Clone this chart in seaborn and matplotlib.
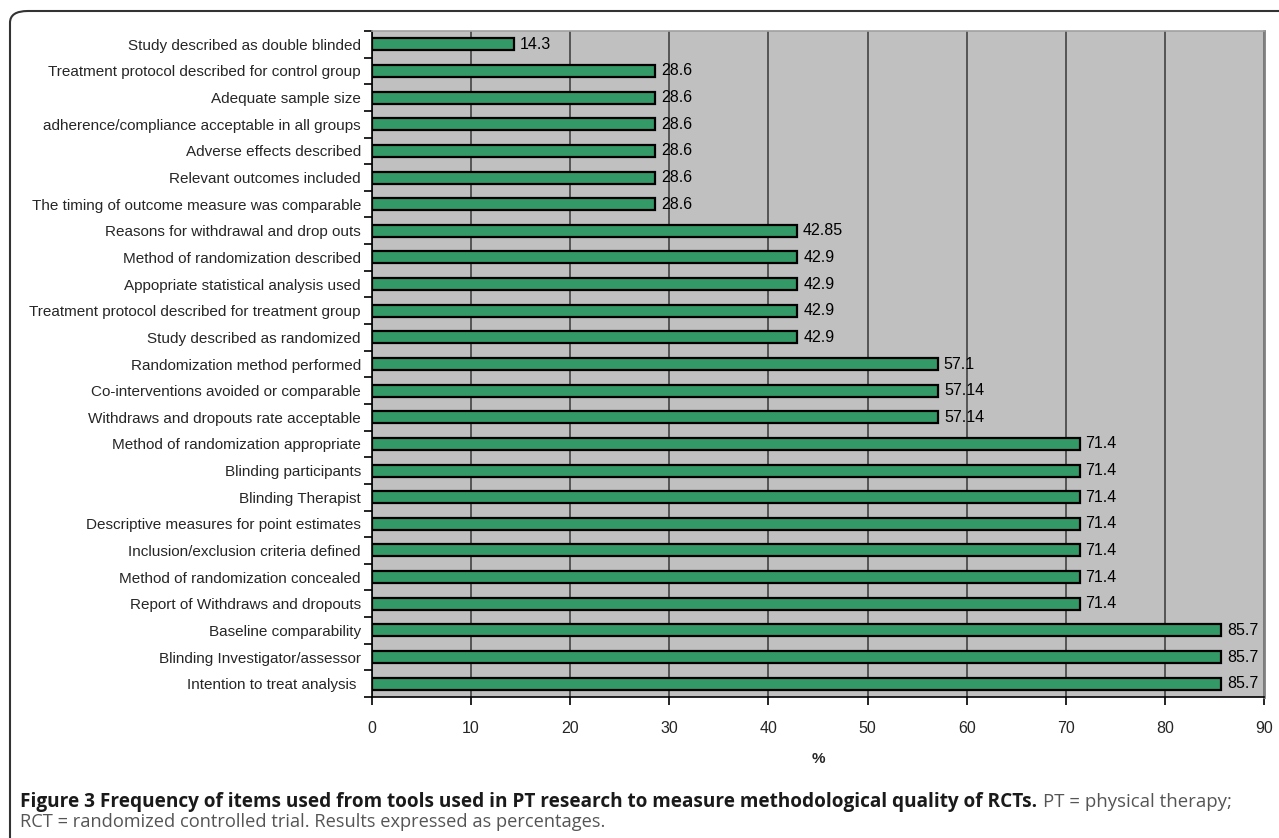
import matplotlib
matplotlib.use("Agg")
import matplotlib.pyplot as plt
from matplotlib.patches import FancyBboxPatch
import seaborn as sns
import pandas as pd
import numpy as np

items = [
    "Study described as double blinded",
    "Treatment protocol described for control group",
    "Adequate sample size",
    "adherence/compliance acceptable in all groups",
    "Adverse effects described",
    "Relevant outcomes included",
    "The timing of outcome measure was comparable",
    "Reasons for withdrawal and drop outs",
    "Method of randomization described",
    "Appopriate statistical analysis used",
    "Treatment protocol described for treatment group",
    "Study described as randomized",
    "Randomization method performed",
    "Co-interventions avoided or comparable",
    "Withdraws and dropouts rate acceptable",
    "Method of randomization appropriate",
    "Blinding participants",
    "Blinding Therapist",
    "Descriptive measures for point estimates",
    "Inclusion/exclusion criteria defined",
    "Method of randomization concealed",
    "Report of Withdraws and dropouts",
    "Baseline comparability",
    "Blinding Investigator/assessor",
    "Intention to treat analysis ",
]
percent = [14.3, 28.6, 28.6, 28.6, 28.6, 28.6, 28.6, 42.85, 42.9, 42.9, 42.9, 42.9,
           57.1, 57.14, 57.14, 71.4, 71.4, 71.4, 71.4, 71.4, 71.4, 71.4, 85.7, 85.7, 85.7]
value_labels = ["14.3", "28.6", "28.6", "28.6", "28.6", "28.6", "28.6", "42.85", "42.9",
                "42.9", "42.9", "42.9", "57.1", "57.14", "57.14", "71.4", "71.4", "71.4",
                "71.4", "71.4", "71.4", "71.4", "85.7", "85.7", "85.7"]
x_ticks = [0, 10, 20, 30, 40, 50, 60, 70, 80, 90]

caption_bold = ("Figure 3 Frequency of items used from tools used in PT research "
                "to measure methodological quality of RCTs.")
caption_tail = "PT = physical therapy;"
caption_line2 = "RCT = randomized controlled trial. Results expressed as percentages."

df = pd.DataFrame({"item": items, "pct": percent})

sns.set_theme(style="white")
plt.rcParams["font.family"] = ["Liberation Sans", "DejaVu Sans"]

W, H = 1279, 838
fig = plt.figure(figsize=(W / 100, H / 100), dpi=100)
ax = fig.add_axes([372 / W, 1 - 697 / H, (1264 - 372) / W, (697 - 31) / H])
ax.set_facecolor("#C0C0C0")

sns.barplot(data=df, x="pct", y="item", orient="h", color="#339966",
            saturation=1, edgecolor="black", linewidth=1.6, width=0.45, ax=ax)

ax.set_xlim(0, 90)
ax.set_ylim(len(items) - 0.5, -0.5)
ax.set_xticks(x_ticks)
ax.set_xticklabels([str(t) for t in x_ticks], fontsize=11.5)
ax.set_axisbelow(True)
ax.grid(axis="x", color="#555555", linewidth=1.4)
ax.grid(axis="y", visible=False)

# category tick marks sit between the bars
ax.tick_params(axis="y", which="major", length=0, labelsize=11, pad=8)
ax.set_yticks(np.arange(-0.5, len(items), 1.0), minor=True)
ax.tick_params(axis="y", which="minor", length=6, width=1.2, color="black", left=True)
ax.tick_params(axis="x", which="major", length=6, width=1.2, color="black",
               bottom=True, pad=11)

for side in ["left", "bottom"]:
    ax.spines[side].set_color("black")
    ax.spines[side].set_linewidth(1.2)
ax.spines["top"].set_color("#A0A0A0")
ax.spines["top"].set_linewidth(1.2)
ax.spines["right"].set_color("#808080")
ax.spines["right"].set_linewidth(2.0)

for i, (v, lab) in enumerate(zip(percent, value_labels)):
    ax.text(v + 0.6, i, lab, va="center", ha="left", fontsize=11.5, color="black")

ax.set_ylabel("")
ax.set_xlabel("%", fontsize=11, fontweight="bold", labelpad=12)

# rounded outer frame
frame = FancyBboxPatch((10 / W, -0.05), 1.2, 1 - 11 / H + 0.05,
                       boxstyle="round,pad=0,rounding_size=0.014",
                       transform=fig.transFigure, fill=False,
                       edgecolor="#333333", linewidth=1.5, clip_on=False)
fig.patches.append(frame)

cap_family = ["Open Sans", "DejaVu Sans"]
renderer = fig.canvas.get_renderer()


def fit_text(x0, x1, y, s, base=12.5, **kw):
    t = fig.text(x0 / W, 1 - y / H, s, fontsize=base, family=cap_family,
                 va="center", ha="left", **kw)
    w = t.get_window_extent(renderer=renderer).width
    t.set_fontsize(base * (x1 - x0) / w)
    return t


fit_text(20, 1037, 802, caption_bold, fontweight="bold", color="#1a1a1a")
fit_text(1043, 1232, 802, caption_tail, color="#555555")
fit_text(20, 607, 822, caption_line2, color="#555555")

fig.savefig("out.png", dpi=100)
